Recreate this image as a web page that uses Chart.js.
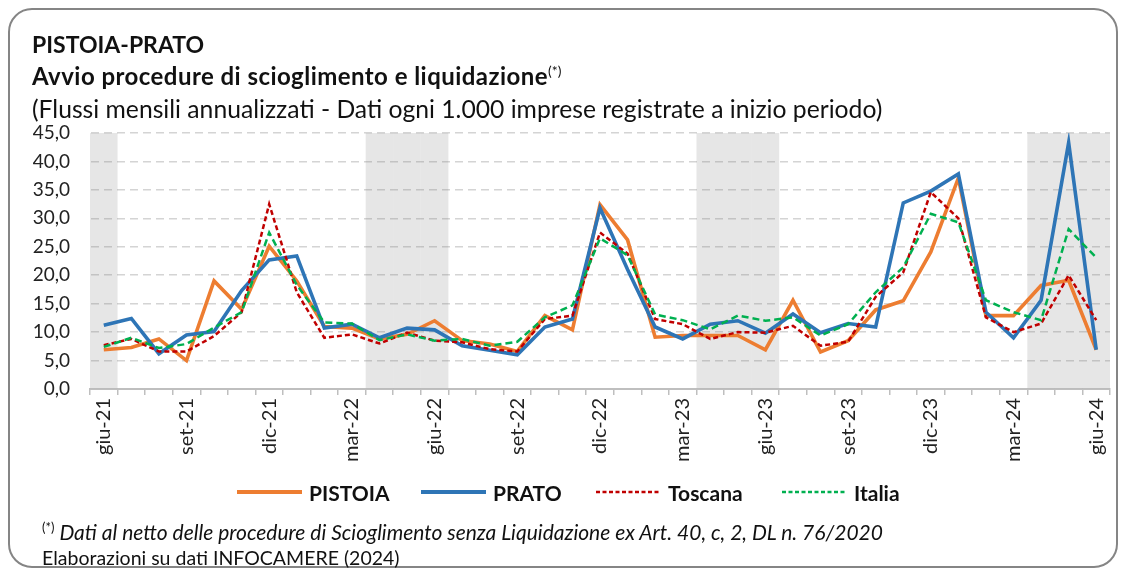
<!DOCTYPE html>
<html>
<head>
<meta charset="utf-8">
<script src="https://cdn.jsdelivr.net/npm/chart.js@4"></script>
<style>
  html, body { margin: 0; padding: 0; background: #fff; }
  body { width: 1127px; height: 571px; position: relative; overflow: hidden; font-family: Lato, "Open Sans", sans-serif; color: #111; }
  #frame { position: absolute; left: 8px; top: 8px; width: 1106px; height: 556px; border: 2px solid #858585; border-radius: 24px; }
  #chart { position: absolute; left: 0; top: 0; }
  .t { position: absolute; left: 32px; white-space: nowrap; line-height: 1.2; }
  #t1 { top: 31px; font-size: 23px; font-weight: bold; }
  #t2 { top: 62px; font-size: 24px; font-weight: bold; letter-spacing: 0.45px; }
  #t2 sup { font-size: 14px; font-weight: normal; vertical-align: 9px; letter-spacing: 0; }
  #t3 { top: 94px; font-size: 24.7px; }
  .n { position: absolute; left: 42px; white-space: nowrap; line-height: 1.2; }
  #n1 { top: 519px; font-size: 21px; font-style: italic; }
  #n1 sup { font-style: normal; font-size: 13px; vertical-align: 8px; }
  #n2 { top: 546px; font-size: 19.5px; }
  .leg { position: absolute; top: 480px; height: 24px; display: flex; align-items: center; white-space: nowrap; font-size: 21px; font-weight: bold; color: #111; }
  .leg svg { margin-right: 7px; }
</style>
</head>
<body>
<div id="frame"></div>
<canvas id="chart" width="1127" height="571"></canvas>
<div class="t" id="t1">PISTOIA-PRATO</div>
<div class="t" id="t2">Avvio procedure di scioglimento e liquidazione<sup>(*)</sup></div>
<div class="t" id="t3">(Flussi mensili annualizzati - Dati ogni 1.000 imprese registrate a inizio periodo)</div>
<div id="legend"></div>
<div class="n" id="n1"><sup>(*)</sup> Dati al netto delle procedure di Scioglimento senza Liquidazione ex Art. 40, c, 2, DL n. 76/2020</div>
<div class="n" id="n2">Elaborazioni su dati INFOCAMERE (2024)</div>

<script>
// mesi da giu-21 a giu-24
const mesi = [
  'giu-21', 'lug-21', 'ago-21', 'set-21', 'ott-21', 'nov-21', 'dic-21', 'gen-22', 'feb-22',
  'mar-22', 'apr-22', 'mag-22', 'giu-22', 'lug-22', 'ago-22', 'set-22', 'ott-22', 'nov-22',
  'dic-22', 'gen-23', 'feb-23', 'mar-23', 'apr-23', 'mag-23', 'giu-23', 'lug-23', 'ago-23',
  'set-23', 'ott-23', 'nov-23', 'dic-23', 'gen-24', 'feb-24', 'mar-24', 'apr-24', 'mag-24', 'giu-24'
];

const pistoia = [6.9, 7.3, 8.8, 5.0, 19.0, 14.0, 25.1, 19.0, 11.0, 10.7, 8.8, 9.6, 12.0, 8.5, 7.9, 6.6, 12.9, 10.4,
  32.4, 26.2, 9.1, 9.4, 9.4, 9.4, 6.9, 15.6, 6.5, 8.5, 13.9, 15.5, 24.1, 37.1, 12.9, 12.9, 18.2, 19.1, 6.9];
const prato = [11.2, 12.4, 6.2, 9.5, 10.1, 17.3, 22.7, 23.4, 10.7, 11.4, 9.0, 10.7, 10.4, 7.6, 6.8, 6.0, 10.9, 12.3,
  31.8, 21.0, 10.9, 8.8, 11.4, 12.0, 9.8, 13.2, 9.9, 11.5, 10.9, 32.7, 34.8, 37.8, 13.5, 9.0, 15.6, 43.3, 6.9];
const toscana = [7.7, 8.8, 6.6, 6.6, 9.3, 13.5, 32.5, 17.0, 9.0, 9.6, 8.0, 9.9, 8.5, 8.2, 7.0, 6.6, 12.3, 12.9,
  27.5, 23.8, 12.3, 11.4, 8.8, 10.0, 9.9, 11.1, 7.6, 8.3, 16.2, 20.5, 34.6, 30.0, 12.6, 10.0, 11.5, 20.0, 12.1];
const italia = [7.4, 9.0, 7.2, 7.9, 10.8, 13.5, 27.5, 18.3, 11.7, 11.5, 8.6, 9.6, 8.5, 8.8, 7.6, 8.3, 12.6, 14.7,
  26.5, 23.5, 13.1, 12.1, 10.5, 12.9, 12.0, 12.6, 9.4, 11.4, 17.0, 21.4, 30.8, 29.3, 15.6, 13.5, 12.1, 28.1, 23.1];

// fasce grigie (trimestre apr-giu)
const fasce = [45, null, null, null, null, null, null, null, null, null, 45, 45, 45, null, null, null, null, null,
  null, null, null, null, 45, 45, 45, null, null, null, null, null, null, null, null, null, 45, 45, 45];

const yMin = 0, yMax = 45, yStep = 5;

// serie: nome, colore, spessore, tratteggio, posizione x della legenda
const serie = [
  { label: 'PISTOIA', data: pistoia, color: '#ed7d31', width: 3.6, dash: [], legX: 237 },
  { label: 'PRATO', data: prato, color: '#2e75b6', width: 3.6, dash: [], legX: 421 },
  { label: 'Toscana', data: toscana, color: '#c00000', width: 2.5, dash: [5, 3], legX: 596 },
  { label: 'Italia', data: italia, color: '#00b050', width: 2.5, dash: [7, 4], legX: 782 }
];

// legenda in html
const legend = document.getElementById('legend');
serie.forEach(s => {
  const d = document.createElement('div');
  d.className = 'leg';
  d.style.left = s.legX + 'px';
  d.innerHTML = `<svg width="65" height="10"><line x1="0" y1="5" x2="65" y2="5" stroke="${s.color}" stroke-width="${s.dash.length ? 2.5 : 4}" stroke-dasharray="${s.dash.length ? '4 2.5' : 'none'}"/></svg>${s.label}`;
  legend.appendChild(d);
});

// l'ultima serie viene disegnata sopra
const lineSets = serie.slice().reverse().map(s => ({
  label: s.label, data: s.data, borderColor: s.color, borderWidth: s.width, borderDash: s.dash,
  pointRadius: 0, tension: 0, order: 0
}));

const ctx = document.getElementById('chart');

new Chart(ctx, {
  type: 'line',
  data: {
    labels: mesi,
    datasets: [
      ...lineSets,
      { type: 'bar', label: 'fasce', data: fasce, backgroundColor: 'rgba(128,128,128,0.2)', barPercentage: 1, categoryPercentage: 1, inflateAmount: 0, order: 1 }
    ]
  },
  options: {
    responsive: false,
    animation: false,
    layout: { padding: { left: 10, right: 17, top: 133, bottom: 82 } },
    plugins: {
      tooltip: { enabled: false },
      legend: { display: false }
    },
    scales: {
      x: {
        offset: true,
        grid: { offset: true, drawOnChartArea: false, color: '#bfbfbf', lineWidth: 1.5, tickLength: 6 },
        border: { color: '#bfbfbf', width: 2 },
        ticks: {
          autoSkip: false, maxRotation: 90, minRotation: 90, color: '#222',
          font: { family: 'Lato', size: 20 },
          callback: (v, i) => (i % 3 === 0 ? mesi[i] : '')
        },
        afterFit: (axis) => { axis.height = 100; }
      },
      y: {
        min: yMin, max: yMax,
        grid: { color: '#d4d4d4', lineWidth: 1.6, drawTicks: false },
        border: { display: true, color: 'rgba(0,0,0,0)', dash: () => [8, 5] },
        ticks: {
          stepSize: yStep, padding: 20, color: '#222',
          font: { family: 'Lato', size: 19 },
          callback: (v) => v.toFixed(1).replace('.', ',')
        },
        afterFit: (axis) => { axis.width = 80; }
      }
    }
  }
});
</script>
</body>
</html>
